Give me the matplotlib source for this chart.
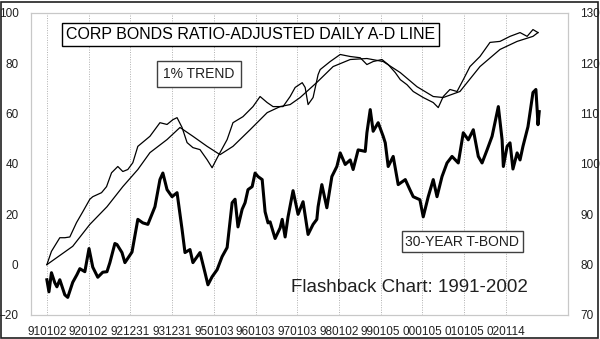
import matplotlib
matplotlib.use("Agg")
import matplotlib.pyplot as plt
from matplotlib.patches import Rectangle

plt.rcParams['font.family'] = ['Liberation Sans', 'DejaVu Sans']

# A-D line (left axis), decimal years
ad_years = [1991.00, 1991.11, 1991.31, 1991.43, 1991.55, 1991.71, 1991.86, 1992.03, 1992.10,
            1992.31, 1992.43, 1992.55, 1992.70, 1992.82, 1992.94, 1993.06, 1993.18, 1993.47,
            1993.71, 1993.88, 1994.02, 1994.12, 1994.24, 1994.36, 1994.50, 1994.67, 1994.84,
            1994.96, 1995.10, 1995.32, 1995.46, 1995.70, 1995.94, 1996.11, 1996.28, 1996.42,
            1996.66, 1996.83, 1996.95, 1997.12, 1997.19, 1997.26, 1997.38, 1997.50, 1997.55,
            1997.79, 1998.03, 1998.27, 1998.51, 1998.67, 1998.82, 1999.03, 1999.18, 1999.35,
            1999.47, 1999.63, 1999.78, 2000.02, 2000.26, 2000.38, 2000.50, 2000.66, 2000.83,
            2000.98, 2001.14, 2001.38, 2001.62, 2001.86, 2002.10, 2002.34, 2002.51, 2002.65,
            2002.77]
ad_vals = [0, 5.3, 10.7, 10.7, 11, 16.7, 21, 26, 27,
           28.6, 31, 36.5, 39, 37, 37.8, 40.5, 47, 51,
           56.4, 55.7, 57.6, 58.4, 54.5, 48.5, 46.5, 45.7, 41.7,
           38.5, 43, 49.7, 56.4, 58.8, 62.8, 66.8, 64.4, 62.8,
           62.8, 66.8, 70.4, 72.3, 70.4, 63.6, 66.4, 75.5, 77.5,
           80.7, 83.5, 82.7, 82.2, 79.5, 80.7, 81.5, 79.5, 76.3,
           73.5, 71.5, 68.8, 66.4, 64.4, 62.4, 66.8, 69.6, 68.8,
           73.5, 78.7, 82.7, 88.3, 88.7, 90.7, 92.2, 90.7, 93.4,
           92.2]

# 1% trend of the A-D line
trend_years = [1991.00, 1991.62, 1992.03, 1992.44, 1992.82, 1993.18, 1993.47, 1993.88,
               1994.19, 1994.50, 1994.84, 1995.15, 1995.46, 1995.87, 1996.28, 1996.59,
               1996.83, 1997.07, 1997.47, 1997.86, 1998.27, 1998.67, 1999.06, 1999.47,
               1999.87, 2000.26, 2000.50, 2000.90, 2001.38, 2001.86, 2002.27, 2002.65,
               2002.77]
trend_vals = [0, 7.3, 16, 23, 31, 37.8, 44.5, 49.7,
              54.5, 51, 47, 43.7, 47, 53.6, 60.4, 62.8,
              63.6, 66.4, 72.4, 78.7, 81.5, 81.9, 80.7, 76.3,
              70.7, 66.8, 66.4, 68.8, 78.7, 85.5, 88.7, 90.7,
              92.2]

# 30-year T-bond price (right axis)
tb_years = [1991.00, 1991.05, 1991.11, 1991.19, 1991.24, 1991.31, 1991.43, 1991.50, 1991.62,
            1991.72, 1991.79, 1991.91, 1992.01, 1992.10, 1992.22, 1992.34, 1992.44, 1992.51,
            1992.63, 1992.68, 1992.80, 1992.87, 1993.04, 1993.18, 1993.30, 1993.42, 1993.59,
            1993.71, 1993.78, 1993.88, 1994.00, 1994.12, 1994.24, 1994.31, 1994.43, 1994.50,
            1994.67, 1994.79, 1994.86, 1994.96, 1995.08, 1995.20, 1995.32, 1995.44, 1995.51,
            1995.58, 1995.68, 1995.75, 1995.82, 1995.92, 1995.99, 1996.06, 1996.16, 1996.23,
            1996.30, 1996.35, 1996.47, 1996.59, 1996.64, 1996.71, 1996.78, 1996.90, 1997.02,
            1997.14, 1997.26, 1997.38, 1997.47, 1997.50, 1997.59, 1997.71, 1997.83, 1997.95,
            1998.03, 1998.15, 1998.27, 1998.34, 1998.46, 1998.63, 1998.67, 1998.75, 1998.82,
            1998.94, 1999.06, 1999.11, 1999.18, 1999.30, 1999.42, 1999.59, 1999.70, 1999.78,
            1999.94, 2000.02, 2000.14, 2000.26, 2000.35, 2000.47, 2000.59, 2000.71, 2000.86,
            2000.98, 2001.10, 2001.22, 2001.34, 2001.43, 2001.55, 2001.67, 2001.82, 2001.91,
            2001.94, 2002.03, 2002.10, 2002.17, 2002.27, 2002.34, 2002.41, 2002.53, 2002.65,
            2002.72, 2002.75, 2002.77, 2002.80]
tb_vals = [77.0, 74.6, 78.4, 76.4, 75.6, 77.0, 74.0, 73.5, 76.5,
           78.0, 79.2, 78.6, 83.2, 79.5, 77.5, 78.5, 78.6, 80.4,
           84.2, 84.0, 82.4, 80.4, 82.5, 89.0, 88.3, 88.0, 91.5,
           96.9, 98.2, 94.9, 93.5, 94.3, 87.0, 82.4, 83.0, 80.4,
           82.4, 78.4, 76.0, 77.6, 79.0, 81.6, 83.4, 92.3, 93.0,
           87.5, 91.0, 92.3, 94.9, 95.5, 98.2, 97.5, 96.9, 90.5,
           88.3, 88.5, 85.2, 87.3, 89.0, 85.5, 89.5, 94.7, 90.0,
           92.5, 86.0, 88.0, 89.0, 91.5, 95.9, 91.3, 97.5, 99.5,
           102.2, 99.9, 100.8, 98.9, 102.8, 102.5, 106.2, 110.8, 106.5,
           108.2, 105.5, 104.2, 99.5, 101.5, 95.9, 96.9, 94.9, 93.5,
           92.9, 89.5, 93.5, 96.9, 93.5, 97.5, 100.2, 101.5, 100.2,
           106.2, 104.8, 106.8, 101.5, 100.2, 102.8, 105.5, 111.4, 104.8,
           99.5, 103.5, 104.2, 99.0, 102.2, 100.8, 103.5, 107.4, 114.2,
           114.8, 110.8, 107.8, 110.4]

tick_years = [1991 + i for i in range(12)]
tick_labels = ['910102', '920102', '921231', '931231', '950103', '960103',
               '970103', '980102', '990105', '000105', '010105', '020114']

fig = plt.figure(figsize=(6.0, 3.39), dpi=100)
fig.patches.append(Rectangle((0.002, 0.004), 0.994, 0.99, transform=fig.transFigure,
                             fill=False, edgecolor='#202020', linewidth=1.2))
ax = fig.add_axes([0.0517, 0.0708, 0.895, 0.891])
ax2 = ax.twinx()

ax.plot(trend_years, trend_vals, color='black', linewidth=0.9)
ax.plot(ad_years, ad_vals, color='black', linewidth=0.9)
ax2.plot(tb_years, tb_vals, color='black', linewidth=2.2)

ax.set_xlim(1990.62, 2003.49)
ax.set_ylim(-20, 100)
ax2.set_ylim(70, 130)
ax.set_yticks(range(-20, 101, 20))
ax2.set_yticks(range(70, 131, 10))
ax.set_xticks(tick_years)
ax.set_xticklabels(tick_labels)
ax.grid(axis='x', color='#b0b0b0', linestyle=(0, (1, 1.5)), linewidth=0.7)

for a in (ax, ax2):
    for s in a.spines.values():
        s.set_color('#c8c8c8')
    a.tick_params(length=0, labelsize=8.5, colors='#202020')
ax.tick_params(axis='y', pad=9)
ax2.tick_params(axis='y', pad=9)
ax.tick_params(axis='x', pad=8)

ax.text(0.409, 0.929, 'CORP BONDS RATIO-ADJUSTED DAILY A-D LINE', transform=ax.transAxes,
        ha='center', va='center', fontsize=11.5,
        bbox=dict(boxstyle='square,pad=0.25', facecolor='white', edgecolor='black', linewidth=1))
ax.text(0.313, 0.798, '1% TREND', transform=ax.transAxes, ha='center', va='center',
        fontsize=10, color='#202020',
        bbox=dict(boxstyle='square,pad=0.45', facecolor='white', edgecolor='#404040', linewidth=1))
ax.text(0.803, 0.242, '30-YEAR T-BOND', transform=ax.transAxes, ha='center', va='center',
        fontsize=10, color='#202020',
        bbox=dict(boxstyle='square,pad=0.25', facecolor='white', edgecolor='#404040', linewidth=1))
ax.text(0.484, 0.076, 'Flashback Chart: 1991-2002', transform=ax.transAxes,
        ha='left', va='baseline', fontsize=13.5, color='#202020')

fig.savefig('out.png', dpi=100)
